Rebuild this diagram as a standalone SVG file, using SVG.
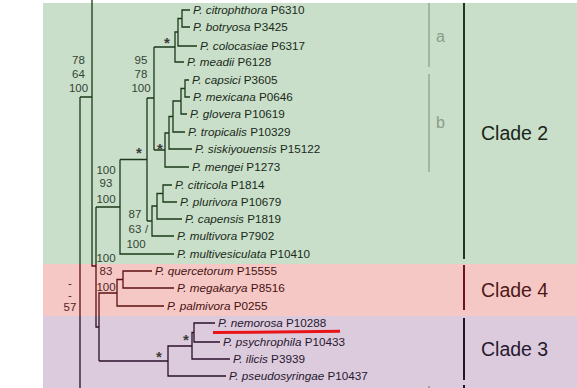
<svg xmlns="http://www.w3.org/2000/svg" width="577" height="388" viewBox="0 0 577 388">
<style>
text { font-family: "Liberation Sans", Arial, sans-serif; }
.sp { font-size: 11.7px; }
.i { font-style: italic; }
.tg { fill: #1a2a1a; }
.tp { fill: #451212; }
.tu { fill: #271830; }
.num { font-size: 11.5px; text-anchor: middle; }
.ng { fill: #344434; }
.np { fill: #552222; }
.star { font-size: 15px; font-weight: bold; text-anchor: middle; fill: #3c3c3c; }
.clade { font-size: 19.5px; }
.sub { font-size: 16px; fill: #8c9c8c; }
.lg { stroke: #1a3a1a; fill: none; stroke-width: 1.3; }
.lp { stroke: #5a1010; fill: none; stroke-width: 1.3; }
.lu { stroke: #2a102a; fill: none; stroke-width: 1.3; }
.bar { stroke-width: 2; fill: none; }
</style>
<rect x="0" y="0" width="577" height="388" fill="#ffffff"/>
<g id="backgrounds">
<rect x="43" y="3" width="534" height="261" fill="#c9dfc9"/>
<rect x="43" y="264" width="534" height="52" fill="#f5c8c5"/>
<rect x="43" y="316" width="534" height="72" fill="#dccbdc"/>
</g>
<g id="connectors">
<path class="lg" d="M190,10 H182 V27 H190 M182,18.5 H178 V46 H197 M178,32 H175 V62 H184 M154,47 H175"/>
<path class="lg" d="M189,80 H185 V97 H190 M185,88.5 H181 V114 H187 M181,101 H173 V132 H185 M173,116.5 H169 V149 H192 M169,133 H165 V167 H189 M165,150 H154"/>
<path class="lg" d="M154,47 V150 M154,98 H147"/>
<path class="lg" d="M172,185 H163 V202 H177 M163,193.5 H157 V219 H182 M157,206 H152 V236 H174 M152,221 H147"/>
<path class="lg" d="M147,98 V221 M147,159.5 H120 M120,159.5 V254 H174 M120,207 H96 M96,207 V264"/>
<path class="lg" d="M92,0 V264 M92,97 H80 M80,97 V264"/>
<path class="lp" d="M92,264 V266 H96 M96,264 V316 M80,264 V316"/>
<path class="lp" d="M152,271 H123 V288 H174 M123,279.5 H117 V306 H164 M117,293 H99 V316"/>
<path class="lu" d="M96,316 V327 H99 M99,316 V361 M80,316 V388"/>
<path class="lu" d="M215,323 H194 V342 H220 M194,332.5 H192 V359 H230 M192,346 H168 V376 H226 M168,361 H99"/>
</g>
<g id="leaf-citrophthora"><text class="sp tg" x="193" y="14"><tspan class="i">P. citrophthora</tspan> P6310</text></g>
<g id="leaf-botryosa"><text class="sp tg" x="193" y="31"><tspan class="i">P. botryosa</tspan> P3425</text></g>
<g id="leaf-colocasiae"><text class="sp tg" x="200" y="50"><tspan class="i">P. colocasiae</tspan> P6317</text></g>
<g id="leaf-meadii"><text class="sp tg" x="187" y="66"><tspan class="i">P. meadii</tspan> P6128</text></g>
<g id="leaf-capsici"><text class="sp tg" x="192" y="84"><tspan class="i">P. capsici</tspan> P3605</text></g>
<g id="leaf-mexicana"><text class="sp tg" x="193" y="101"><tspan class="i">P. mexicana</tspan> P0646</text></g>
<g id="leaf-glovera"><text class="sp tg" x="190" y="118"><tspan class="i">P. glovera</tspan> P10619</text></g>
<g id="leaf-tropicalis"><text class="sp tg" x="188" y="136"><tspan class="i">P. tropicalis</tspan> P10329</text></g>
<g id="leaf-siskiyouensis"><text class="sp tg" x="195" y="153"><tspan class="i">P. siskiyouensis</tspan> P15122</text></g>
<g id="leaf-mengei"><text class="sp tg" x="192" y="171"><tspan class="i">P. mengei</tspan> P1273</text></g>
<g id="leaf-citricola"><text class="sp tg" x="175" y="189"><tspan class="i">P. citricola</tspan> P1814</text></g>
<g id="leaf-plurivora"><text class="sp tg" x="180" y="206"><tspan class="i">P. plurivora</tspan> P10679</text></g>
<g id="leaf-capensis"><text class="sp tg" x="185" y="223"><tspan class="i">P. capensis</tspan> P1819</text></g>
<g id="leaf-multivora"><text class="sp tg" x="177" y="240"><tspan class="i">P. multivora</tspan> P7902</text></g>
<g id="leaf-multivesiculata"><text class="sp tg" x="177" y="258"><tspan class="i">P. multivesiculata</tspan> P10410</text></g>
<g id="leaf-quercetorum"><text class="sp tp" x="155" y="275"><tspan class="i">P. quercetorum</tspan> P15555</text></g>
<g id="leaf-megakarya"><text class="sp tp" x="177" y="292"><tspan class="i">P. megakarya</tspan> P8516</text></g>
<g id="leaf-palmivora"><text class="sp tp" x="167" y="310"><tspan class="i">P. palmivora</tspan> P0255</text></g>
<g id="leaf-nemorosa"><text class="sp tu" x="218" y="327"><tspan class="i">P. nemorosa</tspan> P10288</text>
<path d="M213,332.6 L340,331.2" stroke="#e8141a" stroke-width="3" fill="none"/></g>
<g id="leaf-psychrophila"><text class="sp tu" x="223" y="346"><tspan class="i">P. psychrophila</tspan> P10433</text></g>
<g id="leaf-ilicis"><text class="sp tu" x="233" y="363"><tspan class="i">P. ilicis</tspan> P3939</text></g>
<g id="leaf-pseudosyringae"><text class="sp tu" x="229" y="380"><tspan class="i">P. pseudosyringae</tspan> P10437</text></g>
<g id="node-support-A"><text class="num ng" x="78.5" y="64">78</text><text class="num ng" x="78.5" y="78">64</text><text class="num ng" x="78.5" y="92">100</text></g>
<g id="node-support-AB"><text class="num ng" x="141" y="64">95</text><text class="num ng" x="141" y="78">78</text><text class="num ng" x="141" y="92">100</text></g>
<g id="node-support-Y"><text class="num ng" x="106" y="174">100</text><text class="num ng" x="106" y="187">93</text><text class="num ng" x="106" y="203">100</text></g>
<g id="node-support-C3"><text class="num ng" x="135" y="218">87</text><text class="num ng" x="135" y="233">63</text><text class="num ng" x="146.5" y="233">/</text><text class="num ng" x="136" y="248">100</text></g>
<g id="node-support-W"><text class="num ng" x="106" y="262">100</text><text class="num np" x="106" y="275">83</text><text class="num np" x="106" y="291">100</text></g>
<g id="node-support-B"><text class="num np" x="70" y="287">-</text><text class="num np" x="70" y="299">-</text><text class="num np" x="70" y="311">57</text></g>
<g id="stars">
<text class="star" x="167" y="48">*</text>
<text class="star" x="160" y="154">*</text>
<text class="star" x="139" y="158">*</text>
<text class="star" x="186" y="345">*</text>
<text class="star" x="159" y="362">*</text>
</g>
<g id="subclade-a"><line class="bar" x1="429" y1="3" x2="429" y2="67" stroke="#a3b5a3"/><text class="sub" x="436" y="42">a</text></g>
<g id="subclade-b"><line class="bar" x1="429" y1="74" x2="429" y2="172" stroke="#a3b5a3"/><text class="sub" x="436" y="128">b</text></g>
<g id="clade-2"><line class="bar" x1="464" y1="3" x2="464" y2="259" stroke="#1a3a1a"/><text class="clade" x="481" y="140" fill="#1a261a">Clade 2</text></g>
<g id="clade-4"><line class="bar" x1="464" y1="265" x2="464" y2="310" stroke="#6b1515"/><text class="clade" x="481" y="297" fill="#4e1818">Clade 4</text></g>
<g id="clade-3"><line class="bar" x1="464" y1="318" x2="464" y2="380" stroke="#2a1030"/><text class="clade" x="481" y="356" fill="#261a30">Clade 3</text></g>
<g id="next-bars"><line class="bar" x1="464" y1="385" x2="464" y2="388" stroke="#2a1030"/><line class="bar" x1="429" y1="386" x2="429" y2="388" stroke="#a3a0a8"/></g>
</svg>
